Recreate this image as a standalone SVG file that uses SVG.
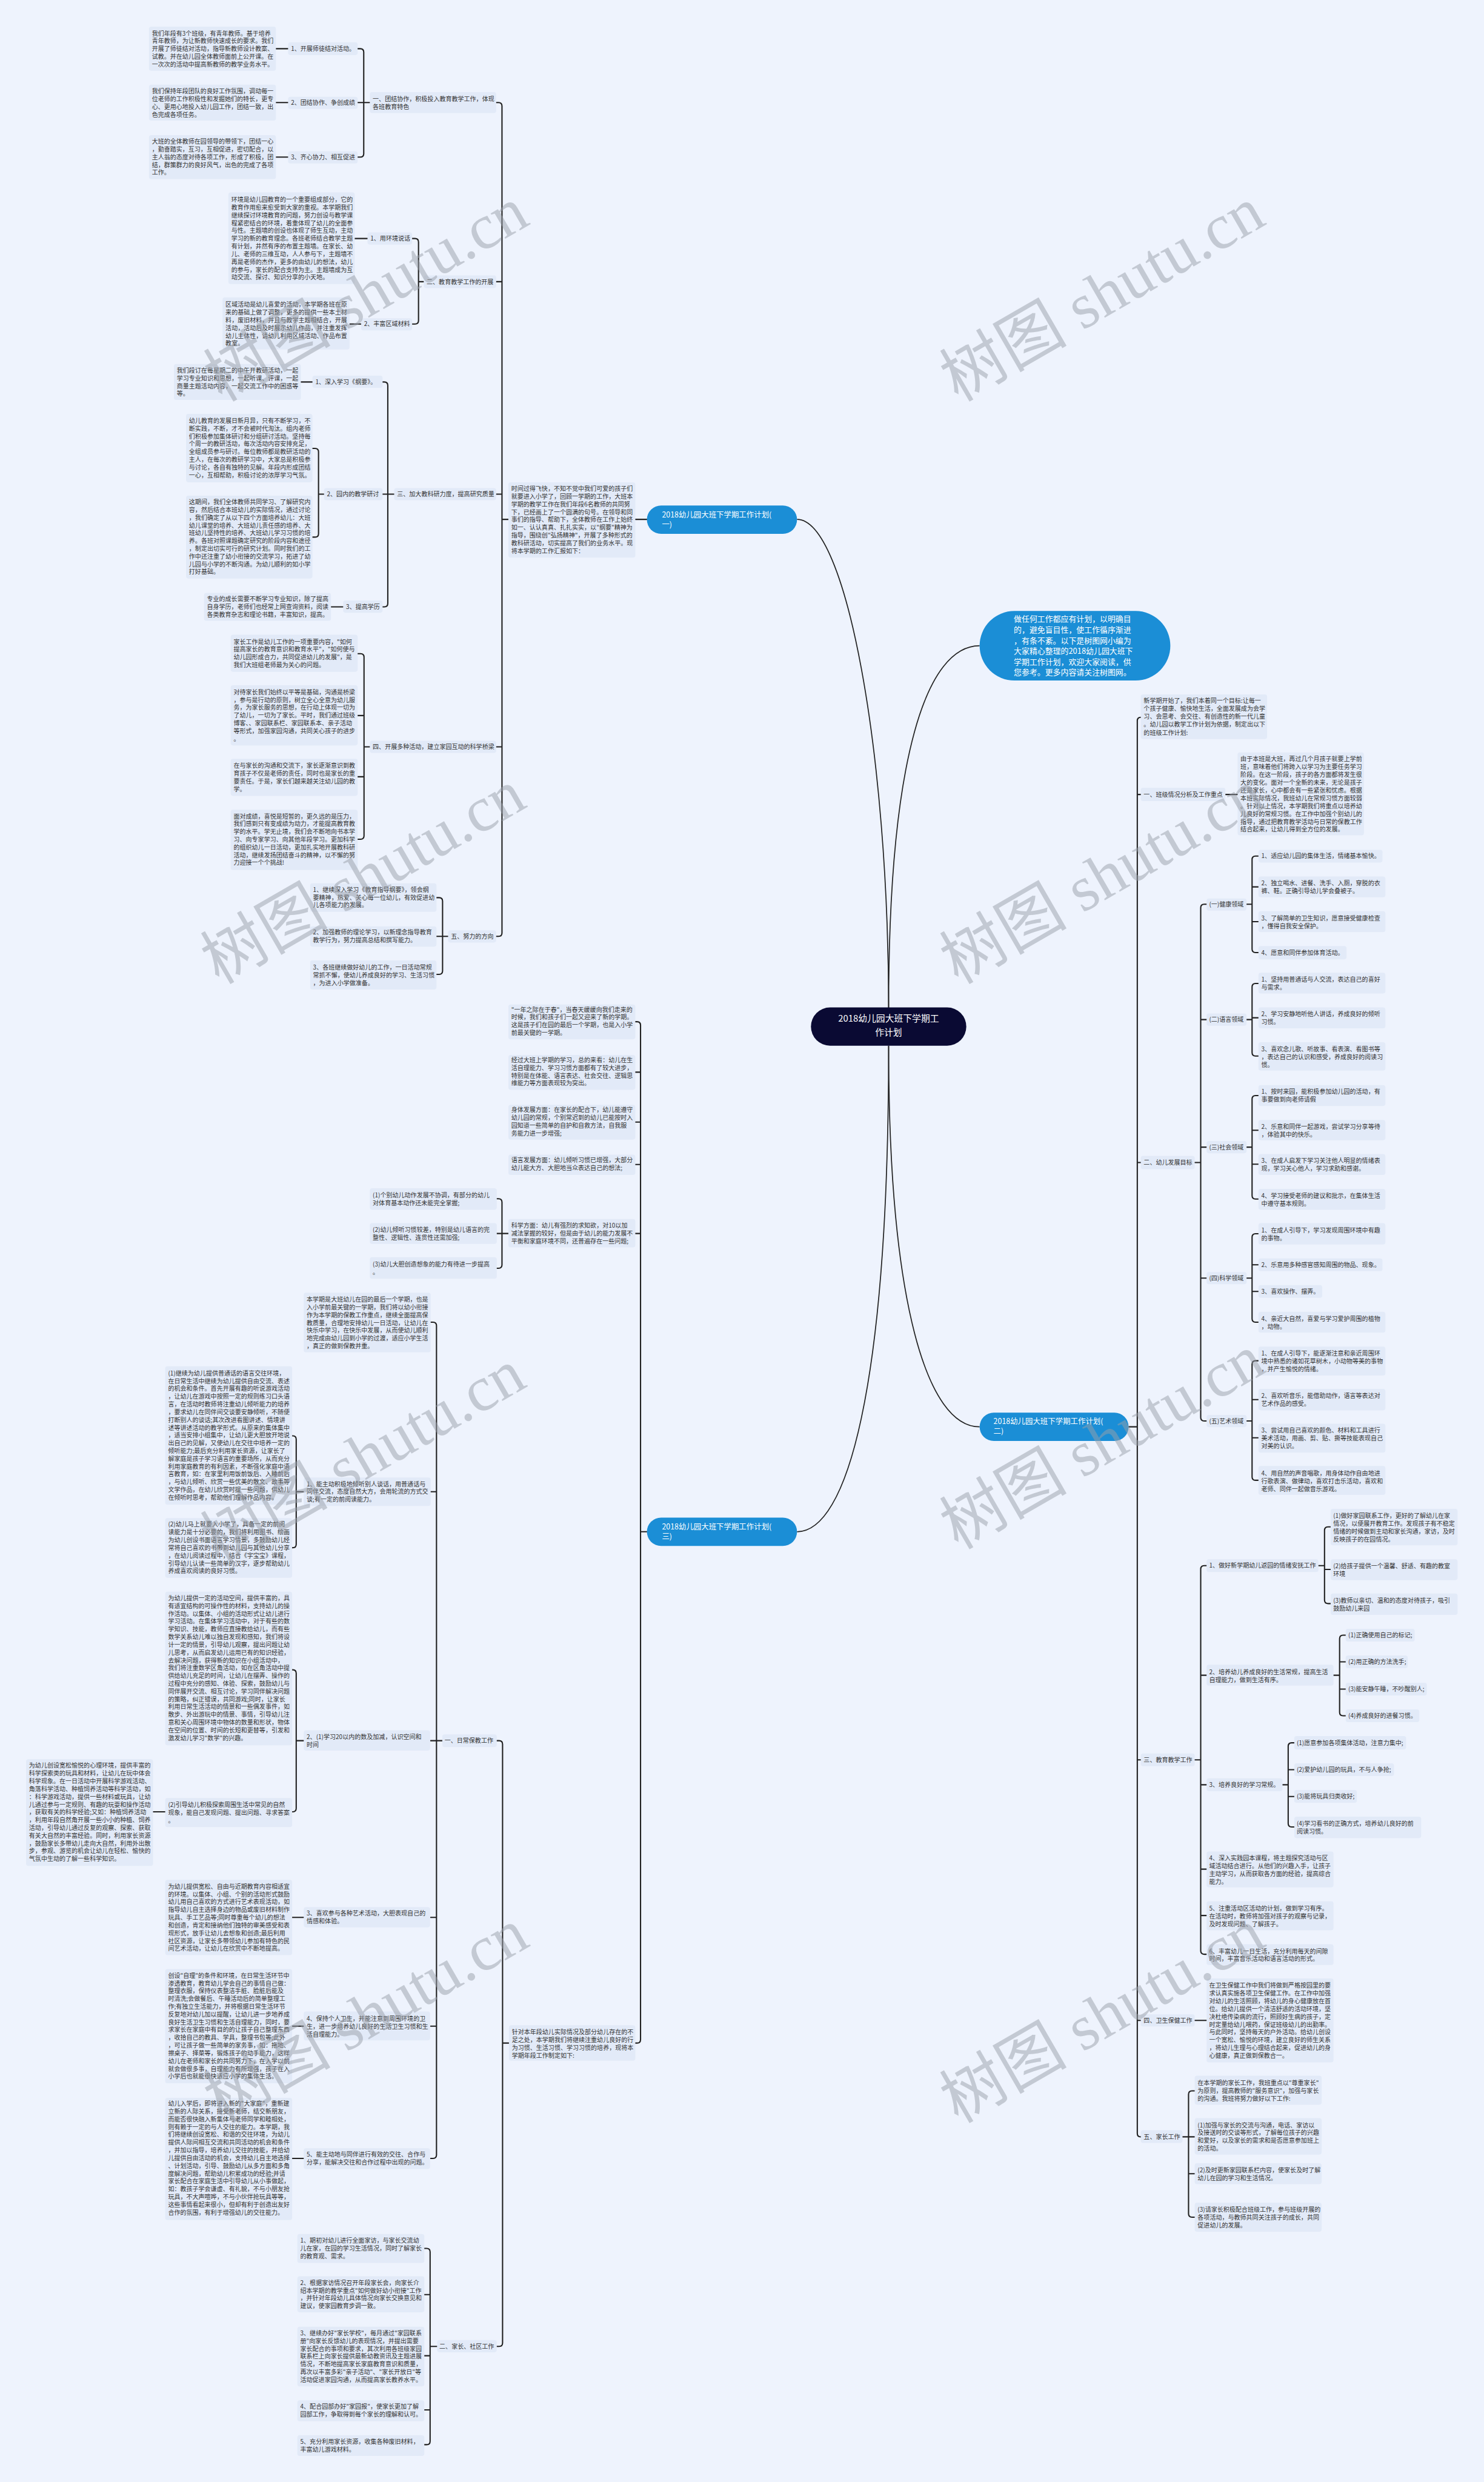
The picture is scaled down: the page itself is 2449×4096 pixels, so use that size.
<svg xmlns="http://www.w3.org/2000/svg" width="2449" height="4096" viewBox="0 0 2449 4096">
<defs>
<style>
.b{fill:#E2EAF8}
.t{font-family:"Noto Sans CJK SC","Noto Sans",sans-serif;font-size:10.5px;fill:#333}
.ln{fill:none;stroke:#222;stroke-width:2.2;stroke-linecap:round;stroke-linejoin:round}
.cv{fill:none;stroke:#222;stroke-width:1.8}
.pill{fill:#1B8ED6}
.bt{font-family:"Noto Sans CJK SC","Noto Sans",sans-serif;font-size:13px;fill:#fff}
.it{font-family:"Noto Sans CJK SC","Noto Sans",sans-serif;font-size:13.5px;fill:#fff}
.ct{font-family:"Noto Sans CJK SC","Noto Sans",sans-serif;font-size:15.5px;fill:#fff;text-anchor:middle}
.wm{font-family:"Liberation Serif","Noto Sans CJK SC",serif;font-size:110px;fill:#9aa0aa;opacity:0.5}
</style>
</defs>
<rect x="0" y="0" width="2449" height="4096" fill="#EEF3FD"/>
<g transform="scale(0.9566)">
<g id="connectors">
<path class="cv" d="M1375,896 C1460,896 1533,1300 1533,1740"/>
<path class="cv" d="M1533,1740 C1533,1300 1600,1114 1690,1114"/>
<path class="cv" d="M1533,1804 C1533,2250 1600,2461.5 1690,2461.5"/>
<path class="cv" d="M1533,1804 C1533,2400 1460,2642.5 1375,2642.5"/>
<path class="ln" d="M1116,896 H1096"/>
<path class="ln" d="M877,896 H866 M866,896 V183 Q866,177 860,177 H856 M866,486 H856 M866,852.5 H856 M866,1288.4 H856 M866,896 V1609.3 Q866,1615.3 860,1615.3 H856"/>
<path class="ln" d="M638,177 H627.5 M627.5,177 V90 Q627.5,84 621.5,84 H617 M627.5,177 H617 M627.5,177 V265 Q627.5,271 621.5,271 H617"/>
<path class="ln" d="M497,84 H476 M497,177 H476 M497,271 H476"/>
<path class="ln" d="M733,486 H722 M722,486 V417.5 Q722,411.5 716,411.5 H711 M722,486 V553 Q722,559 716,559 H711"/>
<path class="ln" d="M634,411.5 H612 M623,559 H603"/>
<path class="ln" d="M680,852.5 H659.5 M669,852.5 V665 Q669,659 663,659 H660 M669,852.5 V1041 Q669,1047 663,1047 H660"/>
<path class="ln" d="M539,659 H519 M592,1047 H571"/>
<path class="ln" d="M559,852.5 H549.5 M549.5,852.5 V779.6 Q549.5,773.6 543.5,773.6 H539 M549.5,852.5 V920.6 Q549.5,926.6 543.5,926.6 H539"/>
<path class="ln" d="M638,1288.4 H628 M628,1288.4 V1133.7 Q628,1127.7 622,1127.7 H617 M628,1234.4 H617 M628,1340 H617 M628,1288.4 V1441.8 Q628,1447.8 622,1447.8 H617"/>
<path class="ln" d="M773,1615.3 H763.5 M763.5,1615.3 V1554.6 Q763.5,1548.6 757.5,1548.6 H753 M763.5,1615.3 H753 M763.5,1615.3 V1675 Q763.5,1681 757.5,1681 H753"/>
<path class="ln" d="M1116,2642.5 H1105 M1105,2642.5 V1768.6 Q1105,1762.6 1099,1762.6 H1096 M1105,1849.6 H1096 M1105,1935.8 H1096 M1105,2009 H1096 M1105,2128 H1096 M1105,2642.5 V3518.6 Q1105,3524.6 1099,3524.6 H1096"/>
<path class="ln" d="M877,2128 H866 M866,2128 V2074 Q866,2068 860,2068 H857 M866,2128 H857 M866,2128 V2182 Q866,2188 860,2188 H857"/>
<path class="ln" d="M878,3524.6 H867 M867,3524.6 V3009 Q867,3003 861,3003 H857 M867,3524.6 V4042 Q867,4048 861,4048 H857"/>
<path class="ln" d="M763,3003 H753 M753,3003 V2287 Q753,2281 747,2281 H743 M753,2573.4 H743 M753,3003 H743 M753,3307.8 H743 M753,3495.5 H743 M753,3003 V3717.6 Q753,3723.6 747,3723.6 H743"/>
<path class="ln" d="M524,2573.4 H511 M511,2573.4 V2483 Q511,2477 505,2477 H504 M511,2573.4 V2664 Q511,2670 505,2670 H504"/>
<path class="ln" d="M524,3003 H511 M511,3003 V2886.6 Q511,2880.6 505,2880.6 H504 M511,3003 V3119.6 Q511,3125.6 505,3125.6 H504"/>
<path class="ln" d="M285,3125.6 H264 M524,3307.8 H504 M524,3495.5 H504 M524,3723.6 H504"/>
<path class="ln" d="M754,4048 H742 M742,4048 V3884.8 Q742,3878.8 736,3878.8 H732 M742,3958.5 H732 M742,4064 H732 M742,4157.4 H732 M742,4048 V4211.4 Q742,4217.4 736,4217.4 H732"/>
<path class="ln" d="M1947,2461.5 H1962 M1962,2461.5 V1243.4 Q1962,1237.4 1968,1237.4 M1962,1370.6 H1968 M1962,2005.5 H1968 M1962,3036 H1968 M1962,3485.5 H1968 M1962,2461.5 V3680.4 Q1962,3686.4 1968,3686.4"/>
<path class="ln" d="M2114,1370.6 H2135"/>
<path class="ln" d="M2061,2005.5 H2071.4 M2071.4,2005.5 V1566 Q2071.4,1560 2077.4,1560 H2081.5 M2071.4,1759 H2081.5 M2071.4,1979 H2081.5 M2071.4,2205 H2081.5 M2071.4,2005.5 V2445.4 Q2071.4,2451.4 2077.4,2451.4 H2081.5"/>
<path class="ln" d="M2150,1560 H2160 M2160,1560 V1482.8 Q2160,1476.8 2166,1476.8 H2171 M2160,1530 H2171 M2160,1590 H2171 M2160,1560 V1637.3 Q2160,1643.3 2166,1643.3 H2171"/>
<path class="ln" d="M2150,1759 H2160 M2160,1759 V1702.6 Q2160,1696.6 2166,1696.6 H2171 M2160,1755.8 H2171 M2160,1759 V1815.8 Q2160,1821.8 2166,1821.8 H2171"/>
<path class="ln" d="M2150,1979 H2160 M2160,1979 V1896 Q2160,1890 2166,1890 H2171 M2160,1949.8 H2171 M2160,2008.4 H2171 M2160,1979 V2062.5 Q2160,2068.5 2166,2068.5 H2171"/>
<path class="ln" d="M2150,2205 H2160 M2160,2205 V2134.4 Q2160,2128.4 2166,2128.4 H2171 M2160,2182 H2171 M2160,2228 H2171 M2160,2205 V2275 Q2160,2281 2166,2281 H2171"/>
<path class="ln" d="M2150,2451.4 H2160 M2160,2451.4 V2353.5 Q2160,2347.5 2166,2347.5 H2171 M2160,2414.5 H2171 M2160,2480.4 H2171 M2160,2451.4 V2547.7 Q2160,2553.7 2166,2553.7 H2171"/>
<path class="ln" d="M2061,3036 H2071.4 M2071.4,3036 V2707 Q2071.4,2701 2077.4,2701 H2081.5 M2071.4,2890 H2081.5 M2071.4,3079 H2081.5 M2071.4,3224.6 H2081.5 M2071.4,3304.5 H2081.5 M2071.4,3036 V3365.4 Q2071.4,3371.4 2077.4,3371.4 H2081.5"/>
<path class="ln" d="M2274.5,2701 H2285 M2285,2701 V2640 Q2285,2634 2291,2634 H2295.5 M2285,2707.5 H2295.5 M2285,2701 V2760.4 Q2285,2766.4 2291,2766.4 H2295.5"/>
<path class="ln" d="M2300.5,2890 H2311 M2311,2890 V2827 Q2311,2821 2317,2821 H2321.5 M2311,2867 H2321.5 M2311,2914 H2321.5 M2311,2890 V2954 Q2311,2960 2317,2960 H2321.5"/>
<path class="ln" d="M2212.6,3079 H2222.3 M2222.3,3079 V3012.6 Q2222.3,3006.6 2228.3,3006.6 H2232.8 M2222.3,3053 H2232.8 M2222.3,3099.3 H2232.8 M2222.3,3079 V3145.8 Q2222.3,3151.8 2228.3,3151.8 H2232.8"/>
<path class="ln" d="M2061,3485.5 H2081.5"/>
<path class="ln" d="M2040,3686.4 H2050.4 M2050.4,3686.4 V3613 Q2050.4,3607 2056.4,3607 H2061 M2050.4,3686.4 H2061 M2050.4,3750 H2061 M2050.4,3686.4 V3819 Q2050.4,3825 2056.4,3825 H2061"/>
</g>

<g id="n-center"><rect x="1399" y="1738" width="268" height="66" rx="33" fill="#0A0A33"/><text class="ct" x="1533" y="1762.5">2018幼儿园大班下学期工<tspan x="1533" dy="24">作计划</tspan></text></g>
<g id="n-intro"><rect class="pill" x="1690" y="1054" width="329" height="120" rx="60"/><text class="it" x="1749" y="1073">做任何工作都应有计划，以明确目<tspan x="1749" dy="18.4">的，避免盲目性，使工作循序渐进</tspan><tspan x="1749" dy="18.4">，有条不紊。以下是树图网小编为</tspan><tspan x="1749" dy="18.4">大家精心整理的2018幼儿园大班下</tspan><tspan x="1749" dy="18.4">学期工作计划，欢迎大家阅读，供</tspan><tspan x="1749" dy="18.4">您参考。更多内容请关注树图网。</tspan></text></g>
<g id="n-b1"><rect class="pill" x="1116" y="872" width="259" height="49" rx="24.5"/><text class="bt" x="1142" y="892.6">2018幼儿园大班下学期工作计划(<tspan x="1142" dy="17">一)</tspan></text></g>
<g id="n-b2"><rect class="pill" x="1690" y="2437" width="257" height="49" rx="24.5"/><text class="bt" x="1714" y="2456.3">2018幼儿园大班下学期工作计划(<tspan x="1714" dy="17">二)</tspan></text></g>
<g id="n-b3"><rect class="pill" x="1116" y="2618" width="259" height="49" rx="24.5"/><text class="bt" x="1142" y="2638.6">2018幼儿园大班下学期工作计划(<tspan x="1142" dy="17">三)</tspan></text></g>

<g id="n-p1"><rect class="b" x="877" y="832" width="219" height="130" rx="4"/><text class="t" x="882" y="847.1">时间过得飞快，不知不觉中我们可爱的孩子们<tspan x="882" dy="13.35">就要进入小学了，回顾一学期的工作，大班本</tspan><tspan x="882" dy="13.35">学期的教学工作在我们年段6名教师的共同努</tspan><tspan x="882" dy="13.35">下，已经画上了一个圆满的句号。在领导和同</tspan><tspan x="882" dy="13.35">事们的指导、帮助下，全体教师在工作上始终</tspan><tspan x="882" dy="13.35">如一、认认真真、扎扎实实，以"纲要"精神为</tspan><tspan x="882" dy="13.35">指导，围绕创"弘扬精神"，开展了多种形式的</tspan><tspan x="882" dy="13.35">教科研活动，切实提高了我们的业务水平。现</tspan><tspan x="882" dy="13.35">将本学期的工作汇报如下：</tspan></text></g>
<g id="n-s1"><rect class="b" x="638" y="159" width="218" height="36" rx="4"/><text class="t" x="643" y="174.8">一、团结协作，积极投入教育教学工作，体现<tspan x="643" dy="13.4">各班教育特色</tspan></text></g>
<g id="n-s2"><rect class="b" x="731" y="475" width="125" height="22" rx="4"/><text class="t" x="736" y="489.8">二、教育教学工作的开展</text></g>
<g id="n-s3"><rect class="b" x="680" y="842" width="176" height="21" rx="4"/><text class="t" x="685" y="856.3">三、加大教科研力度，提高研究质量</text></g>
<g id="n-s4"><rect class="b" x="638" y="1278" width="218" height="21" rx="4"/><text class="t" x="643" y="1292.2">四、开展多种活动，建立家园互动的科学桥梁</text></g>
<g id="n-s5"><rect class="b" x="773" y="1605" width="83" height="21" rx="4"/><text class="t" x="778" y="1619.1">五、努力的方向</text></g>
<g id="n-c11"><rect class="b" x="497" y="73" width="120" height="22" rx="4"/><text class="t" x="502" y="87.8">1、开展师徒结对活动。</text></g>
<g id="n-c12"><rect class="b" x="497" y="167" width="120" height="21" rx="4"/><text class="t" x="502" y="180.8">2、团结协作、争创成绩</text></g>
<g id="n-c13"><rect class="b" x="497" y="261" width="120" height="21" rx="4"/><text class="t" x="502" y="274.8">3、齐心协力、相互促进</text></g>
<g id="n-g11"><rect class="b" x="257" y="46" width="219" height="76" rx="4"/><text class="t" x="262" y="61.3">我们年段有3个班级，有青年教师。基于培养<tspan x="262" dy="13.4">青年教师，为让新教师快速成长的要求。我们</tspan><tspan x="262" dy="13.4">开展了师徒结对活动，指导新教师设计教案、</tspan><tspan x="262" dy="13.4">试教。并在幼儿园全体教师面前上公开课。在</tspan><tspan x="262" dy="13.4">一次次的活动中提高新教师的教学业务水平。</tspan></text></g>
<g id="n-g12"><rect class="b" x="257" y="146" width="219" height="62" rx="4"/><text class="t" x="262" y="161.3">我们保持年段团队的良好工作氛围，调动每一<tspan x="262" dy="13.4">位老师的工作积极性和发掘她们的特长，更专</tspan><tspan x="262" dy="13.4">心、更用心地投入幼儿园工作，团结一致，出</tspan><tspan x="262" dy="13.4">色完成各项任务。</tspan></text></g>
<g id="n-g13"><rect class="b" x="257" y="233" width="219" height="76" rx="4"/><text class="t" x="262" y="247.8">大班的全体教师在园领导的带领下，团结一心<tspan x="262" dy="13.4">，勤奋踏实，互习，互相促进，密切配合，以</tspan><tspan x="262" dy="13.4">主人翁的态度对待各项工作，形成了积极，团</tspan><tspan x="262" dy="13.4">结，群策群力的良好风气，出色的完成了各项</tspan><tspan x="262" dy="13.4">工作。</tspan></text></g>
<g id="n-c21"><rect class="b" x="634" y="401" width="77" height="21" rx="4"/><text class="t" x="639" y="415.3">1、用环境说话</text></g>
<g id="n-c22"><rect class="b" x="623" y="549" width="88" height="21" rx="4"/><text class="t" x="628" y="562.8">2、丰富区域材料</text></g>
<g id="n-g21"><rect class="b" x="394" y="332" width="218" height="158" rx="4"/><text class="t" x="399" y="348.3">环境是幼儿园教育的一个重要组成部分，它的<tspan x="399" dy="13.4">教育作用愈来愈受到大家的重视。本学期我们</tspan><tspan x="399" dy="13.4">继续探讨环境教育的问题，努力创设与教学课</tspan><tspan x="399" dy="13.4">程紧密结合的环境，着重体现了幼儿的全面参</tspan><tspan x="399" dy="13.4">与性。主题墙的创设也体现了师生互动，主动</tspan><tspan x="399" dy="13.4">学习的新的教育理念。各班老师结合教学主题</tspan><tspan x="399" dy="13.4">有计划，井然有序的布置主题墙。在家长、幼</tspan><tspan x="399" dy="13.4">儿、老师的三维互动，人人参与下，主题墙不</tspan><tspan x="399" dy="13.4">再是老师的杰作，更多的由幼儿的想法，幼儿</tspan><tspan x="399" dy="13.4">的参与，家长的配合支持为主。主题墙成为互</tspan><tspan x="399" dy="13.4">动交流、探讨、知识分享的小天地。</tspan></text></g>
<g id="n-g22"><rect class="b" x="384" y="513" width="219" height="90" rx="4"/><text class="t" x="389" y="529.2">区域活动是幼儿喜爱的活动，本学期各班在原<tspan x="389" dy="13.4">来的基础上做了调整，更多的提供一些本土材</tspan><tspan x="389" dy="13.4">料，废旧材料，并且与教学主题相结合，开展</tspan><tspan x="389" dy="13.4">活动，活动后及时展示幼儿作品，并注重发挥</tspan><tspan x="389" dy="13.4">幼儿主体性，请幼儿利用区域活动、作品布置</tspan><tspan x="389" dy="13.4">教室。</tspan></text></g>
<g id="n-c31"><rect class="b" x="539" y="648" width="121" height="21" rx="4"/><text class="t" x="544" y="662.8">1、深入学习《纲要》。</text></g>
<g id="n-c32"><rect class="b" x="559" y="842" width="101" height="21" rx="4"/><text class="t" x="564" y="856.3">2、园内的教学研讨</text></g>
<g id="n-c33"><rect class="b" x="592" y="1036" width="68" height="21" rx="4"/><text class="t" x="597" y="1050.8">3、提高学历</text></g>
<g id="n-g31"><rect class="b" x="300" y="628" width="219" height="62" rx="4"/><text class="t" x="305" y="642.8">我们段订在每星期二的中午开教研活动，一起<tspan x="305" dy="13.4">学习专业知识和思想，一起听课、评课，一起</tspan><tspan x="305" dy="13.4">商量主题活动内容，一起交流工作中的困惑等</tspan><tspan x="305" dy="13.4">等。</tspan></text></g>
<g id="n-g32a"><rect class="b" x="321" y="714" width="218" height="118" rx="4"/><text class="t" x="326" y="729.7">幼儿教育的发展日新月异，只有不断学习，不<tspan x="326" dy="13.4">断实践，不断，才不会被时代淘汰。组内老师</tspan><tspan x="326" dy="13.4">们积极参加集体研讨和分组研讨活动。坚持每</tspan><tspan x="326" dy="13.4">个周一的教研活动，每次活动内容安排充足，</tspan><tspan x="326" dy="13.4">全组成员参与研讨。每位教师都是教研活动的</tspan><tspan x="326" dy="13.4">主人，在每次的教研学习中，大家总是积极参</tspan><tspan x="326" dy="13.4">与讨论，各自有独特的见解。年段内形成团结</tspan><tspan x="326" dy="13.4">一心，互相帮助，积极讨论的浓厚学习气氛。</tspan></text></g>
<g id="n-g32b"><rect class="b" x="321" y="855" width="218" height="143" rx="4"/><text class="t" x="326" y="869.8">这期间，我们全体教师共同学习、了解研究内<tspan x="326" dy="13.4">容，然后结合本班幼儿的实际情况，通过讨论</tspan><tspan x="326" dy="13.4">，我们确定了从以下四个方面培养幼儿：大班</tspan><tspan x="326" dy="13.4">幼儿课堂的培养、大班幼儿责任感的培养、大</tspan><tspan x="326" dy="13.4">班幼儿坚持性的培养、大班幼儿学习习惯的培</tspan><tspan x="326" dy="13.4">养。各班对照课题确定研究的阶段内容和途径</tspan><tspan x="326" dy="13.4">，制定出切实可行的研究计划。同时我们的工</tspan><tspan x="326" dy="13.4">作中还注重了幼小衔接的交流学习，拓进了幼</tspan><tspan x="326" dy="13.4">儿园与小学的不断沟通。为幼儿顺利的如小学</tspan><tspan x="326" dy="13.4">打好基础。</tspan></text></g>
<g id="n-g33"><rect class="b" x="352" y="1023" width="219" height="48" rx="4"/><text class="t" x="357" y="1037.2">专业的成长需要不断学习专业知识，除了提高<tspan x="357" dy="13.4">自身学历，老师们也经常上网查询资料，阅读</tspan><tspan x="357" dy="13.4">各类教育杂志和理论书籍，丰富知识，提高。</tspan></text></g>
<g id="n-g41"><rect class="b" x="398" y="1095" width="219" height="64" rx="4"/><text class="t" x="403" y="1110.8">家长工作是幼儿工作的一项重要内容，"如何<tspan x="403" dy="13.4">提高家长的教育意识和教育水平"，"如何使与</tspan><tspan x="403" dy="13.4">幼儿园形成合力，共同促进幼儿的发展"，是</tspan><tspan x="403" dy="13.4">我们大班组老师最为关心的问题。</tspan></text></g>
<g id="n-g42"><rect class="b" x="398" y="1182" width="219" height="104" rx="4"/><text class="t" x="403" y="1197.8">对待家长我们始终以平等是基础，沟通是桥梁<tspan x="403" dy="13.4">，参与是行动的原则，树立全心全意为幼儿服</tspan><tspan x="403" dy="13.4">务，为家长服务的思想，在行动上体现一切为</tspan><tspan x="403" dy="13.4">了幼儿，一切为了家长。平时，我们通过班级</tspan><tspan x="403" dy="13.4">博客、、家园联系栏、家园联系本、亲子活动</tspan><tspan x="403" dy="13.4">等形式，加强家园沟通，共同关心孩子的进步</tspan><tspan x="403" dy="13.4">。</tspan></text></g>
<g id="n-g43"><rect class="b" x="398" y="1309" width="219" height="64" rx="4"/><text class="t" x="403" y="1324.8">在与家长的沟通和交流下，家长逐渐意识到教<tspan x="403" dy="13.4">育孩子不仅是老师的责任，同时也是家长的重</tspan><tspan x="403" dy="13.4">要责任。于是，家长们越来越关注幼儿园的教</tspan><tspan x="403" dy="13.4">学。</tspan></text></g>
<g id="n-g44"><rect class="b" x="398" y="1397" width="219" height="104" rx="4"/><text class="t" x="403" y="1411.8">面对成绩，喜悦是短暂的，更久远的是压力，<tspan x="403" dy="13.4">我们感到只有变成绩为动力，才能提高教育教</tspan><tspan x="403" dy="13.4">学的水平。学无止境，我们会不断地向书本学</tspan><tspan x="403" dy="13.4">习、向专家学习、向其他年段学习。更加科学</tspan><tspan x="403" dy="13.4">的组织幼儿一日活动，更加扎实地开展教科研</tspan><tspan x="403" dy="13.4">活动，继续发扬团结奋斗的精神，以不懈的努</tspan><tspan x="403" dy="13.4">力迎接一个个挑战!</tspan></text></g>
<g id="n-g51"><rect class="b" x="535" y="1524" width="218" height="49" rx="4"/><text class="t" x="540" y="1538.6">1、继续深入学习《教育指导纲要》，领会纲<tspan x="540" dy="13.4">要精神，热爱、关心每一位幼儿，有效促进幼</tspan><tspan x="540" dy="13.4">儿各项能力的发展。</tspan></text></g>
<g id="n-g52"><rect class="b" x="535" y="1598" width="218" height="35" rx="4"/><text class="t" x="540" y="1612.4">2、加强教师的理论学习，以新理念指导教育<tspan x="540" dy="13.4">教学行为，努力提高总结和撰写能力。</tspan></text></g>
<g id="n-g53"><rect class="b" x="535" y="1657" width="218" height="50" rx="4"/><text class="t" x="540" y="1672.6">3、各班继续做好幼儿的工作，一日活动常规<tspan x="540" dy="13.4">常抓不懈，使幼儿养成良好的学习、生活习惯</tspan><tspan x="540" dy="13.4">，为进入小学做准备。</tspan></text></g>

<g id="n-p3a"><rect class="b" x="877" y="1733" width="219" height="60" rx="4"/><text class="t" x="882" y="1745.4">"一年之际在于春"，当春天缓缓向我们走来的<tspan x="882" dy="13.4">时候，我们和孩子们一起又迎来了新的学期。</tspan><tspan x="882" dy="13.4">这是孩子们在园的最后一个学期，也是入小学</tspan><tspan x="882" dy="13.4">前最关键的一学期。</tspan></text></g>
<g id="n-p3b"><rect class="b" x="877" y="1820" width="219" height="60" rx="4"/><text class="t" x="882" y="1832.5">经过大班上学期的学习，总的来看：幼儿在生<tspan x="882" dy="13.4">活自理能力、学习习惯方面都有了较大进步，</tspan><tspan x="882" dy="13.4">特别是在体能、语言表达、社会交往、逻辑思</tspan><tspan x="882" dy="13.4">维能力等方面表现较为突出。</tspan></text></g>
<g id="n-p3c"><rect class="b" x="877" y="1906" width="219" height="60" rx="4"/><text class="t" x="882" y="1918.6">身体发展方面：在家长的配合下，幼儿能遵守<tspan x="882" dy="13.4">幼儿园的常规，个别常迟到的幼儿已能按时入</tspan><tspan x="882" dy="13.4">园知道一些简单的自护和自救方法，自我服</tspan><tspan x="882" dy="13.4">务能力进一步增强;</tspan></text></g>
<g id="n-p3d"><rect class="b" x="877" y="1992" width="219" height="35" rx="4"/><text class="t" x="882" y="2005.2">语言发展方面：幼儿倾听习惯已增强，大部分<tspan x="882" dy="13.4">幼儿能大方、大胆地当众表达自己的想法;</tspan></text></g>
<g id="n-p3e"><rect class="b" x="877" y="2103" width="219" height="49" rx="4"/><text class="t" x="882" y="2118.3">科学方面：幼儿有强烈的求知欲，对10以加<tspan x="882" dy="13.4">减法掌握的较好，但是由于幼儿的能力发展不</tspan><tspan x="882" dy="13.4">平衡和家庭环境不同，还普遍存在一些问题;</tspan></text></g>
<g id="n-e1"><rect class="b" x="638" y="2050" width="219" height="37" rx="4"/><text class="t" x="643" y="2065.5">(1)个别幼儿动作发展不协调，有部分的幼儿<tspan x="643" dy="13.4">对体育基本动作还未能完全掌握;</tspan></text></g>
<g id="n-e2"><rect class="b" x="638" y="2110" width="219" height="36" rx="4"/><text class="t" x="643" y="2125.4">(2)幼儿倾听习惯较差，特别是幼儿语言的完<tspan x="643" dy="13.4">整性、逻辑性、连贯性还需加强;</tspan></text></g>
<g id="n-e3"><rect class="b" x="638" y="2169" width="219" height="37" rx="4"/><text class="t" x="643" y="2185.2">(3)幼儿大胆创造想象的能力有待进一步提高<tspan x="643" dy="13.4">。</tspan></text></g>
<g id="n-p3f"><rect class="b" x="878" y="3494" width="218" height="61" rx="4"/><text class="t" x="883" y="3509.8">针对本年段幼儿实际情况及部分幼儿存在的不<tspan x="883" dy="13.4">足之处，本学期我们将继续注重幼儿良好的行</tspan><tspan x="883" dy="13.4">为习惯、生活习惯、学习习惯的培养，现将本</tspan><tspan x="883" dy="13.4">学期年段工作制定如下:</tspan></text></g>
<g id="n-f1"><rect class="b" x="763" y="2992" width="94" height="22" rx="4"/><text class="t" x="767" y="3006.8">一、日常保教工作</text></g>
<g id="n-f2"><rect class="b" x="754" y="4037" width="103" height="21" rx="4"/><text class="t" x="758" y="4051.8">二、家长、社区工作</text></g>
<g id="n-f10"><rect class="b" x="524" y="2230" width="219" height="103" rx="4"/><text class="t" x="529" y="2245.5">本学期是大班幼儿在园的最后一个学期，也是<tspan x="529" dy="13.4">入小学前最关键的一学期，我们将以幼小衔接</tspan><tspan x="529" dy="13.4">作为本学期的保教工作重点，继续全面提高保</tspan><tspan x="529" dy="13.4">教质量，合理地安排幼儿一日活动，让幼儿在</tspan><tspan x="529" dy="13.4">快乐中学习，在快乐中发展，从而使幼儿顺利</tspan><tspan x="529" dy="13.4">地完成由幼儿园到小学的过渡，适应小学生活</tspan><tspan x="529" dy="13.4">，真正的做到保教并重。</tspan></text></g>
<g id="n-f11"><rect class="b" x="524" y="2549" width="219" height="49" rx="4"/><text class="t" x="529" y="2563.8">1、能主动积极地倾听别人谈话，用普通话与<tspan x="529" dy="13.4">同伴交流，态度自然大方，会用轮流的方式交</tspan><tspan x="529" dy="13.4">谈;有一定的前阅读能力。</tspan></text></g>
<g id="n-f12"><rect class="b" x="524" y="2985" width="218" height="35" rx="4"/><text class="t" x="529" y="3000.2">2、(1)学习20以内的数及加减，认识空间和<tspan x="529" dy="13.4">时间</tspan></text></g>
<g id="n-f13"><rect class="b" x="524" y="3290" width="218" height="35" rx="4"/><text class="t" x="529" y="3304.8">3、喜欢参与各种艺术活动，大胆表现自己的<tspan x="529" dy="13.4">情感和体验。</tspan></text></g>
<g id="n-f14"><rect class="b" x="524" y="3470" width="218" height="50" rx="4"/><text class="t" x="529" y="3486.3">4、保持个人卫生，并能注意到周围环境的卫<tspan x="529" dy="13.4">生，进一步培养幼儿良好的生活卫生习惯和生</tspan><tspan x="529" dy="13.4">活自理能力。</tspan></text></g>
<g id="n-f15"><rect class="b" x="524" y="3706" width="218" height="36" rx="4"/><text class="t" x="529" y="3720.8">5、能主动地与同伴进行有效的交往、合作与<tspan x="529" dy="13.4">分享，能解决交往和合作过程中出现的问题。</tspan></text></g>
<g id="n-f11a"><rect class="b" x="285" y="2357" width="219" height="239" rx="4"/><text class="t" x="290" y="2372.8">(1)继续为幼儿提供普通话的语言交往环境，<tspan x="290" dy="13.4">在日常生活中继续为幼儿提供自由交流、表述</tspan><tspan x="290" dy="13.4">的机会和条件。首先开展有趣的听说游戏活动</tspan><tspan x="290" dy="13.4">，让幼儿在游戏中按照一定的规则练习口头语</tspan><tspan x="290" dy="13.4">言，在活动时教师将注重幼儿倾听能力的培养</tspan><tspan x="290" dy="13.4">，要求幼儿在同伴间交谈要安静倾听，不随便</tspan><tspan x="290" dy="13.4">打断别人的谈话;其次改进看图讲述、情境讲</tspan><tspan x="290" dy="13.4">述等讲述活动的教学形式。从原来的集体集中</tspan><tspan x="290" dy="13.4">，适当安排小组集中，让幼儿更大胆放开地说</tspan><tspan x="290" dy="13.4">出自己的见解，又使幼儿在交往中培养一定的</tspan><tspan x="290" dy="13.4">倾听能力;最后充分利用家长资源，让家长了</tspan><tspan x="290" dy="13.4">解家庭是孩子学习语言的重要场所，从而充分</tspan><tspan x="290" dy="13.4">利用家庭教育的有利因素，不断强化家庭中语</tspan><tspan x="290" dy="13.4">言教育，如：在家里利用饭前饭后、入睡前后</tspan><tspan x="290" dy="13.4">，与幼儿倾听、欣赏一些优美的散文、故事等</tspan><tspan x="290" dy="13.4">文学作品，在幼儿欣赏时提一些问题，供幼儿</tspan><tspan x="290" dy="13.4">在倾听时思考，帮助他们理解作品内容。</tspan></text></g>
<g id="n-f11b"><rect class="b" x="285" y="2619" width="219" height="103" rx="4"/><text class="t" x="290" y="2633.8">(2)幼儿马上就要入小学了，具备一定的前阅<tspan x="290" dy="13.4">读能力是十分必要的，我们将利用图书、绘画</tspan><tspan x="290" dy="13.4">为幼儿创设书面语言学习情景，多鼓励幼儿经</tspan><tspan x="290" dy="13.4">常将自己喜欢的书带到幼儿园与其他幼儿分享</tspan><tspan x="290" dy="13.4">，在幼儿阅读过程中，结合《字宝宝》课程，</tspan><tspan x="290" dy="13.4">引导幼儿认读一些简单的汉字，逐步帮助幼儿</tspan><tspan x="290" dy="13.4">养成喜欢阅读的良好习惯。</tspan></text></g>
<g id="n-f12a"><rect class="b" x="285" y="2746" width="219" height="265" rx="4"/><text class="t" x="290" y="2760.8">为幼儿提供一定的活动空间，提供丰富的，具<tspan x="290" dy="13.4">有适宜结构的可操作性的材料，支持幼儿的操</tspan><tspan x="290" dy="13.4">作活动。以集体、小组的活动形式让幼儿进行</tspan><tspan x="290" dy="13.4">学习活动。在集体学习活动中，对于有些的数</tspan><tspan x="290" dy="13.4">学知识、技能，教师应直接教给幼儿，而有些</tspan><tspan x="290" dy="13.4">数学关系幼儿难以独自发现和感知，我们将设</tspan><tspan x="290" dy="13.4">计一定的情景，引导幼儿观察，提出问题让幼</tspan><tspan x="290" dy="13.4">儿思考，从而启发幼儿运用已有的知识经验，</tspan><tspan x="290" dy="13.4">去解决问题，获得新的知识在小组活动中，</tspan><tspan x="290" dy="13.4">我们将注重数学区角活动，如在区角活动中提</tspan><tspan x="290" dy="13.4">供给幼儿充足的时间，让幼儿在摆弄、操作的</tspan><tspan x="290" dy="13.4">过程中充分的感知、体验、探索，鼓励幼儿与</tspan><tspan x="290" dy="13.4">同伴展开交流、相互讨论，学习同伴解决问题</tspan><tspan x="290" dy="13.4">的策略，纠正错误，共同游戏;同时，让家长</tspan><tspan x="290" dy="13.4">利用日常生活活动的情景和一些偶发事件，如</tspan><tspan x="290" dy="13.4">散步、外出游玩中的情景、事情，引导幼儿注</tspan><tspan x="290" dy="13.4">意和关心周围环境中物体的数量和形状，物体</tspan><tspan x="290" dy="13.4">在空间的位置、时间的长短和更替等，引发和</tspan><tspan x="290" dy="13.4">激发幼儿学习"数学"的兴趣。</tspan></text></g>
<g id="n-f12b"><rect class="b" x="285" y="3102" width="219" height="50" rx="4"/><text class="t" x="290" y="3117.3">(2)引导幼儿积极探索周围生活中常见的自然<tspan x="290" dy="13.4">现象，能自己发现问题、提出问题、寻求答案</tspan><tspan x="290" dy="13.4">。</tspan></text></g>
<g id="n-f12c"><rect class="b" x="45" y="3035" width="219" height="184" rx="4"/><text class="t" x="50" y="3049.8">为幼儿创设宽松愉悦的心理环境，提供丰富的<tspan x="50" dy="13.4">科学探索类的玩具和材料，让幼儿在玩中体会</tspan><tspan x="50" dy="13.4">科学现象。在一日活动中开展科学游戏活动、</tspan><tspan x="50" dy="13.4">角落科学活动、种植饲养活动等科学活动，如</tspan><tspan x="50" dy="13.4">：科学游戏活动，提供一些材料或玩具，让幼</tspan><tspan x="50" dy="13.4">儿通过参与一定规则、有趣的玩耍和操作活动</tspan><tspan x="50" dy="13.4">，获取有关的科学经验;又如：种植饲养活动</tspan><tspan x="50" dy="13.4">，利用年段自然角开展一些小小的种植、饲养</tspan><tspan x="50" dy="13.4">活动，引导幼儿通过反复的观察、探索、获取</tspan><tspan x="50" dy="13.4">有关大自然的丰富经验。同时，利用家长资源</tspan><tspan x="50" dy="13.4">，鼓励家长多带幼儿走向大自然，利用外出散</tspan><tspan x="50" dy="13.4">步，参观、游览的机会让幼儿在轻松、愉快的</tspan><tspan x="50" dy="13.4">气氛中生动的了解一些科学知识。</tspan></text></g>
<g id="n-f13a"><rect class="b" x="285" y="3243" width="219" height="130" rx="4"/><text class="t" x="290" y="3258.2">为幼儿提供宽松、自由与近期教育内容相适宜<tspan x="290" dy="13.4">的环境。以集体、小组、个别的活动形式鼓励</tspan><tspan x="290" dy="13.4">幼儿用自己喜欢的方式进行艺术表现活动，如</tspan><tspan x="290" dy="13.4">指导幼儿自主选择身边的物品或废旧材料制作</tspan><tspan x="290" dy="13.4">玩具、手工艺品等;同时尊重每个幼儿的想法</tspan><tspan x="290" dy="13.4">和创造，肯定和接纳他们独特的审美感受和表</tspan><tspan x="290" dy="13.4">现形式，放手让幼儿去想象和创造;最后利用</tspan><tspan x="290" dy="13.4">社区资源，让家长多带领幼儿参加有特色的民</tspan><tspan x="290" dy="13.4">间艺术活动，让幼儿在欣赏中不断地提高。</tspan></text></g>
<g id="n-f14a"><rect class="b" x="285" y="3397" width="219" height="197" rx="4"/><text class="t" x="290" y="3411.8">创设"自理"的条件和环境，在日常生活环节中<tspan x="290" dy="13.4">渗透教育，教育幼儿学会自己的事情自己做：</tspan><tspan x="290" dy="13.4">整理衣服，保持仪表整洁手脏、脸脏后能及</tspan><tspan x="290" dy="13.4">时清洗;会做餐后、午睡活动后的简单整理工</tspan><tspan x="290" dy="13.4">作;有独立生活能力，并将根据日常生活环节</tspan><tspan x="290" dy="13.4">反复地对幼儿加以提醒，让幼儿进一步地养成</tspan><tspan x="290" dy="13.4">良好生活卫生习惯和生活自理能力，同时，要</tspan><tspan x="290" dy="13.4">求家长在家庭中有目的的让孩子自己整理东西</tspan><tspan x="290" dy="13.4">，收拾自己的教具、学具，整理书包等;此外</tspan><tspan x="290" dy="13.4">，可让孩子做一些简单的家务事，如：拖地、</tspan><tspan x="290" dy="13.4">擦桌子、择菜等，锻炼孩子的动手能力，这样</tspan><tspan x="290" dy="13.4">幼儿在老师和家长的共同努力下，在入学以前</tspan><tspan x="290" dy="13.4">就会做很多事，自理能力有所增强，孩子在入</tspan><tspan x="290" dy="13.4">小学后也就能很快适应小学的集体生活。</tspan></text></g>
<g id="n-f15a"><rect class="b" x="285" y="3619" width="219" height="211" rx="4"/><text class="t" x="290" y="3632.8">幼儿入学后，即将进入新的"大家庭"，重新建<tspan x="290" dy="13.4">立新的人际关系，接受新老师，结交新朋友，</tspan><tspan x="290" dy="13.4">而能否很快融入新集体与老师同学和睦相处，</tspan><tspan x="290" dy="13.4">则有赖于一定的与人交往的能力。本学期，我</tspan><tspan x="290" dy="13.4">们将继续创设宽松、和谐的交往环境，为幼儿</tspan><tspan x="290" dy="13.4">提供人际间相互交流和共同活动的机会和条件</tspan><tspan x="290" dy="13.4">，并加以指导，培养幼儿交往的技能，并给幼</tspan><tspan x="290" dy="13.4">儿提供自由活动的机会，支持幼儿自主地选择</tspan><tspan x="290" dy="13.4">、计划活动，引导、鼓励幼儿从多方面和多角</tspan><tspan x="290" dy="13.4">度解决问题，帮助幼儿积累成功的经验;并请</tspan><tspan x="290" dy="13.4">家长配合在家庭生活中引导幼儿从小事做起，</tspan><tspan x="290" dy="13.4">如：教孩子学会谦虚、有礼貌，不与小朋友抢</tspan><tspan x="290" dy="13.4">玩具，不大声喧哗，不与小伙伴抢玩具等等，</tspan><tspan x="290" dy="13.4">这些事情看起来很小，但却有利于创造出友好</tspan><tspan x="290" dy="13.4">合作的氛围，有利于增强幼儿的交往能力。</tspan></text></g>
<g id="n-f21"><rect class="b" x="513" y="3854" width="219" height="50" rx="4"/><text class="t" x="518" y="3868.8">1、期初对幼儿进行全面家访，与家长交流幼<tspan x="518" dy="13.4">儿在家，在园的学习生活情况，同时了解家长</tspan><tspan x="518" dy="13.4">的教育观、需求。</tspan></text></g>
<g id="n-f22"><rect class="b" x="513" y="3927" width="219" height="62" rx="4"/><text class="t" x="518" y="3941.8">2、根据家访情况召开年段家长会，向家长介<tspan x="518" dy="13.4">绍本学期的教学重点"如何做好幼小衔接"工作</tspan><tspan x="518" dy="13.4">，并针对年段幼儿具体情况向家长交换意见和</tspan><tspan x="518" dy="13.4">建议，使家园教育步调一致。</tspan></text></g>
<g id="n-f23"><rect class="b" x="513" y="4014" width="219" height="103" rx="4"/><text class="t" x="518" y="4028.8">3、继续办好"家长学校"，每月通过"家园联系<tspan x="518" dy="13.4">册"向家长反馈幼儿的表现情况，并提出需要</tspan><tspan x="518" dy="13.4">家长配合的事项和要求，其次利用各班级家园</tspan><tspan x="518" dy="13.4">联系栏上向家长提供最新幼教资讯及主题进展</tspan><tspan x="518" dy="13.4">情况，不断地提高家长家庭教育意识和质量，</tspan><tspan x="518" dy="13.4">再次以丰富多彩"亲子活动"、"家长开放日"等</tspan><tspan x="518" dy="13.4">活动促进家园沟通，从而提高家长教养水平。</tspan></text></g>
<g id="n-f24"><rect class="b" x="513" y="4141" width="219" height="36" rx="4"/><text class="t" x="518" y="4155.8">4、配合园部办好"家园报"，使家长更加了解<tspan x="518" dy="13.4">园部工作，争取得到每个家长的理解和认可。</tspan></text></g>
<g id="n-f25"><rect class="b" x="513" y="4201" width="219" height="36" rx="4"/><text class="t" x="518" y="4215.8">5、充分利用家长资源，收集各种废旧材料，<tspan x="518" dy="13.4">丰富幼儿游戏材料。</tspan></text></g>

<g id="n-r0"><rect class="b" x="1968" y="1198" width="218" height="77" rx="4"/><text class="t" x="1973" y="1212.5">新学期开始了，我们本着同一个目标:让每一<tspan x="1973" dy="13.8">个孩子健康、愉快地生活，全面发展成为会学</tspan><tspan x="1973" dy="13.8">习、会思考、会交往、有创造性的新一代儿童</tspan><tspan x="1973" dy="13.8">。幼儿园以教学工作计划为依据，制定出以下</tspan><tspan x="1973" dy="13.8">的班级工作计划:</tspan></text></g>
<g id="n-r1"><rect class="b" x="1968" y="1359" width="146" height="23" rx="4"/><text class="t" x="1973" y="1374.4">一、班级情况分析及工作重点</text></g>
<g id="n-r1a"><rect class="b" x="2135" y="1298" width="218" height="143" rx="4"/><text class="t" x="2140" y="1312.8">由于本班是大班，再过几个月孩子就要上学前<tspan x="2140" dy="13.55">班，意味着他们将跨入以学习为主要任务学习</tspan><tspan x="2140" dy="13.55">阶段。在这一阶段，孩子的各方面都将发生很</tspan><tspan x="2140" dy="13.55">大的变化。面对一个全新的未来，无论是孩子</tspan><tspan x="2140" dy="13.55">还是家长，心中都会有一些紧张和忧虑。根据</tspan><tspan x="2140" dy="13.55">本班实际情况，我班幼儿在常规习惯方面较弱</tspan><tspan x="2140" dy="13.55">。针对以上情况，本学期我们将重点以培养幼</tspan><tspan x="2140" dy="13.55">儿良好的常规习惯。在工作中加强个别幼儿的</tspan><tspan x="2140" dy="13.55">指导，通过把教育教学活动与日常的保教工作</tspan><tspan x="2140" dy="13.55">结合起来，让幼儿得到全方位的发展。</tspan></text></g>
<g id="n-r2"><rect class="b" x="1968" y="1994" width="93" height="23" rx="4"/><text class="t" x="1973" y="2009.3">二、幼儿发展目标</text></g>
<g id="n-r21"><rect class="b" x="2081.5" y="1550" width="69" height="21" rx="4"/><text class="t" x="2086" y="1563.8">(一)健康领域</text></g>
<g id="n-r22"><rect class="b" x="2081.5" y="1748.5" width="69" height="21" rx="4"/><text class="t" x="2086" y="1762.8">(二)语言领域</text></g>
<g id="n-r23"><rect class="b" x="2081.5" y="1968.5" width="69" height="21" rx="4"/><text class="t" x="2086" y="1982.8">(三)社会领域</text></g>
<g id="n-r24"><rect class="b" x="2081.5" y="2194.5" width="69" height="21" rx="4"/><text class="t" x="2086" y="2208.8">(四)科学领域</text></g>
<g id="n-r25"><rect class="b" x="2081.5" y="2441" width="69" height="21" rx="4"/><text class="t" x="2086" y="2455.2">(五)艺术领域</text></g>
<g id="n-r211"><rect class="b" x="2171" y="1466" width="214" height="22" rx="4"/><text class="t" x="2176" y="1480.6">1、适应幼儿园的集体生活，情绪基本愉快。</text></g>
<g id="n-r212"><rect class="b" x="2171" y="1512" width="219" height="36" rx="4"/><text class="t" x="2176" y="1527.1">2、独立喝水、进餐、洗手、入厕，穿脱的衣<tspan x="2176" dy="13.7">裤、鞋。正确引导幼儿学会叠被子。</tspan></text></g>
<g id="n-r213"><rect class="b" x="2171" y="1572" width="219" height="36" rx="4"/><text class="t" x="2176" y="1587.4">3、了解简单的卫生知识，愿意接受健康检查<tspan x="2176" dy="13.7">，懂得自我安全保护。</tspan></text></g>
<g id="n-r214"><rect class="b" x="2171" y="1632" width="152" height="23" rx="4"/><text class="t" x="2176" y="1647.1">4、愿意和同伴参加体育活动。</text></g>
<g id="n-r221"><rect class="b" x="2171" y="1678" width="219" height="36" rx="4"/><text class="t" x="2176" y="1693.6">1、坚持用普通话与人交流，表达自己的喜好<tspan x="2176" dy="13.7">与需求。</tspan></text></g>
<g id="n-r222"><rect class="b" x="2171" y="1738" width="219" height="36" rx="4"/><text class="t" x="2176" y="1753.3">2、学习安静地听他人讲话，养成良好的倾听<tspan x="2176" dy="13.7">习惯。</tspan></text></g>
<g id="n-r223"><rect class="b" x="2171" y="1798" width="219" height="49" rx="4"/><text class="t" x="2176" y="1813.5">3、喜欢念儿歌、听故事、看表演、看图书等<tspan x="2176" dy="13.7">，表达自己的认识和感受，养成良好的阅读习</tspan><tspan x="2176" dy="13.7">惯。</tspan></text></g>
<g id="n-r231"><rect class="b" x="2171" y="1872" width="219" height="36" rx="4"/><text class="t" x="2176" y="1887">1、按时来园，能积极参加幼儿园的活动，有<tspan x="2176" dy="13.7">事要做到向老师请假</tspan></text></g>
<g id="n-r232"><rect class="b" x="2171" y="1932" width="219" height="35" rx="4"/><text class="t" x="2176" y="1947.3">2、乐意和同伴一起游戏，尝试学习分享等待<tspan x="2176" dy="13.7">，体验其中的快乐。</tspan></text></g>
<g id="n-r233"><rect class="b" x="2171" y="1991" width="219" height="36" rx="4"/><text class="t" x="2176" y="2006.4">3、在成人启发下学习关注他人明显的情绪表<tspan x="2176" dy="13.7">现，学习关心他人，学习求助和感谢。</tspan></text></g>
<g id="n-r234"><rect class="b" x="2171" y="2051" width="219" height="36" rx="4"/><text class="t" x="2176" y="2066.2">4、学习接受老师的建议和批示，在集体生活<tspan x="2176" dy="13.7">中遵守基本规则。</tspan></text></g>
<g id="n-r241"><rect class="b" x="2171" y="2110" width="219" height="37" rx="4"/><text class="t" x="2176" y="2125.8">1、在成人引导下，学习发现周围环境中有趣<tspan x="2176" dy="13.7">的事物。</tspan></text></g>
<g id="n-r242"><rect class="b" x="2171" y="2171" width="214" height="22" rx="4"/><text class="t" x="2176" y="2185.8">2、乐意用多种感官感知周围的物品、现象。</text></g>
<g id="n-r243"><rect class="b" x="2171" y="2217" width="110" height="22" rx="4"/><text class="t" x="2176" y="2231.8">3、喜欢操作、摆弄。</text></g>
<g id="n-r244"><rect class="b" x="2171" y="2263" width="219" height="36" rx="4"/><text class="t" x="2176" y="2278.4">4、亲近大自然，喜爱与学习爱护周围的植物<tspan x="2176" dy="13.7">，动物。</tspan></text></g>
<g id="n-r251"><rect class="b" x="2171" y="2323" width="219" height="50" rx="4"/><text class="t" x="2176" y="2338.4">1、在成人引导下，能逐渐注意和亲近周围环<tspan x="2176" dy="13.7">境中熟悉的诸如花草树木，小动物等美的事物</tspan><tspan x="2176" dy="13.7">，并产生愉悦的情绪。</tspan></text></g>
<g id="n-r252"><rect class="b" x="2171" y="2396" width="219" height="37" rx="4"/><text class="t" x="2176" y="2411.8">2、喜欢听音乐，能借助动作，语言等表达对<tspan x="2176" dy="13.7">艺术作品的感受。</tspan></text></g>
<g id="n-r253"><rect class="b" x="2171" y="2456" width="219" height="50" rx="4"/><text class="t" x="2176" y="2471.3">3、尝试用自己喜欢的颜色、材料和工具进行<tspan x="2176" dy="13.7">美术活动，用画、剪、贴、撕等技能表现自己</tspan><tspan x="2176" dy="13.7">对美的认识。</tspan></text></g>
<g id="n-r254"><rect class="b" x="2171" y="2529" width="219" height="50" rx="4"/><text class="t" x="2176" y="2545.2">4、用自然的声音唱歌，用身体动作自由地进<tspan x="2176" dy="13.7">行歌表演、做律动，喜欢打击乐活动，喜欢和</tspan><tspan x="2176" dy="13.7">老师、同伴一起做音乐游戏。</tspan></text></g>
<g id="n-r3"><rect class="b" x="1968" y="3025" width="93" height="22" rx="4"/><text class="t" x="1973" y="3039.8">三、教育教学工作</text></g>
<g id="n-r31"><rect class="b" x="2081.5" y="2690" width="193" height="22" rx="4"/><text class="t" x="2086" y="2704.8">1、做好新学期幼儿返园的情绪安抚工作</text></g>
<g id="n-r311"><rect class="b" x="2295.5" y="2603" width="219" height="63" rx="4"/><text class="t" x="2300" y="2618.6">(1)做好家园联系工作，更好的了解幼儿在家<tspan x="2300" dy="13.5">情况，以便展开教育工作。发现孩子有不稳定</tspan><tspan x="2300" dy="13.5">情绪的时候做到主动和家长沟通，家访，及时</tspan><tspan x="2300" dy="13.5">反映孩子的在园情况。</tspan></text></g>
<g id="n-r312"><rect class="b" x="2295.5" y="2690" width="219" height="36" rx="4"/><text class="t" x="2300" y="2705.4">(2)给孩子提供一个温馨、舒适、有趣的教室<tspan x="2300" dy="13.5">环境</tspan></text></g>
<g id="n-r313"><rect class="b" x="2295.5" y="2749" width="219" height="37" rx="4"/><text class="t" x="2300" y="2764.8">(3)教师以亲切、温和的态度对待孩子，吸引<tspan x="2300" dy="13.5">鼓励幼儿来园</tspan></text></g>
<g id="n-r32"><rect class="b" x="2081.5" y="2872" width="219" height="36" rx="4"/><text class="t" x="2086" y="2888.1">2、培养幼儿养成良好的生活常规，提高生活<tspan x="2086" dy="13.5">自理能力，做到生活有序。</tspan></text></g>
<g id="n-r321"><rect class="b" x="2321.5" y="2810" width="119" height="22" rx="4"/><text class="t" x="2326" y="2824.8">(1)正确使用自己的标记;</text></g>
<g id="n-r322"><rect class="b" x="2321.5" y="2856" width="107" height="22" rx="4"/><text class="t" x="2326" y="2870.8">(2)用正确的方法洗手;</text></g>
<g id="n-r323"><rect class="b" x="2321.5" y="2903" width="140" height="22" rx="4"/><text class="t" x="2326" y="2917.8">(3)能安静午睡，不吵醒别人;</text></g>
<g id="n-r324"><rect class="b" x="2321.5" y="2949" width="127" height="22" rx="4"/><text class="t" x="2326" y="2963.8">(4)养成良好的进餐习惯。</text></g>
<g id="n-r33"><rect class="b" x="2081.5" y="3068" width="131" height="22" rx="4"/><text class="t" x="2086" y="3082.8">3、培养良好的学习常规。</text></g>
<g id="n-r331"><rect class="b" x="2232.8" y="2995" width="193" height="23" rx="4"/><text class="t" x="2237" y="3010.4">(1)愿意参加各项集体活动，注意力集中;</text></g>
<g id="n-r332"><rect class="b" x="2232.8" y="3042" width="172" height="22" rx="4"/><text class="t" x="2237" y="3056.8">(2)爱护幼儿园的玩具，不与人争抢;</text></g>
<g id="n-r333"><rect class="b" x="2232.8" y="3088" width="108" height="22" rx="4"/><text class="t" x="2237" y="3103.1">(3)能将玩具归类收好;</text></g>
<g id="n-r334"><rect class="b" x="2232.8" y="3134" width="219" height="37" rx="4"/><text class="t" x="2237" y="3149.8">(4)学习看书的正确方式，培养幼儿良好的前<tspan x="2237" dy="13.5">阅读习惯。</tspan></text></g>
<g id="n-r34"><rect class="b" x="2081.5" y="3194" width="219" height="62" rx="4"/><text class="t" x="2086" y="3209.2">4、深入实践园本课程，将主题探究活动与区<tspan x="2086" dy="13.5">域活动结合进行。从他们的兴趣入手，让孩子</tspan><tspan x="2086" dy="13.5">主动学习，从而获取各方面的经验，提高综合</tspan><tspan x="2086" dy="13.5">能力。</tspan></text></g>
<g id="n-r35"><rect class="b" x="2081.5" y="3280" width="219" height="50" rx="4"/><text class="t" x="2086" y="3295.8">5、注重活动区活动的计划，做到学习有序。<tspan x="2086" dy="13.5">在活动时，教师将加强对孩子的观察与记录，</tspan><tspan x="2086" dy="13.5">及时发现问题、了解孩子。</tspan></text></g>
<g id="n-r36"><rect class="b" x="2081.5" y="3354" width="219" height="36" rx="4"/><text class="t" x="2086" y="3369.8">6、丰富幼儿一日生活，充分利用每天的间隙<tspan x="2086" dy="13.5">时间，丰富音乐活动和语言活动的形式。</tspan></text></g>
<g id="n-r4"><rect class="b" x="1968" y="3475" width="93" height="21" rx="4"/><text class="t" x="1973" y="3489.3">四、卫生保健工作</text></g>
<g id="n-r4a"><rect class="b" x="2081.5" y="3413" width="219" height="145" rx="4"/><text class="t" x="2086" y="3428.8">在卫生保健工作中我们将做到严格按园里的要<tspan x="2086" dy="13.5">求认真实施各项卫生保健工作。在工作中加强</tspan><tspan x="2086" dy="13.5">对幼儿的生活照顾，将幼儿的身心健康放在首</tspan><tspan x="2086" dy="13.5">位。给幼儿提供一个清洁舒适的活动环境，坚</tspan><tspan x="2086" dy="13.5">决杜绝传染病的流行，照顾好生病的孩子，定</tspan><tspan x="2086" dy="13.5">时定量给幼儿喂药，保证班级幼儿的出勤率。</tspan><tspan x="2086" dy="13.5">与此同时，坚持每天的户外活动。给幼儿创设</tspan><tspan x="2086" dy="13.5">一个宽松、愉悦的环境，建立良好的师生关系</tspan><tspan x="2086" dy="13.5">，将幼儿生理与心理结合起来，促进幼儿的身</tspan><tspan x="2086" dy="13.5">心健康，真正做到保教合一。</tspan></text></g>
<g id="n-r5"><rect class="b" x="1968" y="3675" width="72" height="22" rx="4"/><text class="t" x="1973" y="3690.2">五、家长工作</text></g>
<g id="n-r51"><rect class="b" x="2061" y="3581" width="219" height="50" rx="4"/><text class="t" x="2066" y="3596.8">在本学期的家长工作，我班重点以"尊重家长"<tspan x="2066" dy="13.5">为原则，提高教师的"服务意识"，加强与家长</tspan><tspan x="2066" dy="13.5">的沟通。我班将努力做好以下工作:</tspan></text></g>
<g id="n-r52"><rect class="b" x="2061" y="3654" width="219" height="63" rx="4"/><text class="t" x="2066" y="3669.8">(1)加强与家长的交流与沟通，电话、家访以<tspan x="2066" dy="13.5">及接送时的交谈等形式，了解每位孩子的兴趣</tspan><tspan x="2066" dy="13.5">和爱好，以及家长的需求和是否愿意参加班上</tspan><tspan x="2066" dy="13.5">的活动。</tspan></text></g>
<g id="n-r53"><rect class="b" x="2061" y="3732" width="219" height="36" rx="4"/><text class="t" x="2066" y="3747.3">(2)及时更新家园联系栏内容，使家长及时了解<tspan x="2066" dy="13.5">幼儿在园的学习和生活情况。</tspan></text></g>
<g id="n-r54"><rect class="b" x="2061" y="3800" width="219" height="50" rx="4"/><text class="t" x="2066" y="3815.3">(3)请家长积极配合班级工作，参与班级开展的<tspan x="2066" dy="13.5">各项活动，与教师共同关注孩子的成长，共同</tspan><tspan x="2066" dy="13.5">促进幼儿的发展。</tspan></text></g>

<g id="watermarks">
<text class="wm" text-anchor="middle" transform="translate(650,540) rotate(-30)">树图 shutu.cn</text>
<text class="wm" text-anchor="middle" transform="translate(1920,540) rotate(-30)">树图 shutu.cn</text>
<text class="wm" text-anchor="middle" transform="translate(645,1545) rotate(-30)">树图 shutu.cn</text>
<text class="wm" text-anchor="middle" transform="translate(1920,1545) rotate(-30)">树图 shutu.cn</text>
<text class="wm" text-anchor="middle" transform="translate(645,2545) rotate(-30)">树图 shutu.cn</text>
<text class="wm" text-anchor="middle" transform="translate(1920,2520) rotate(-30)">树图 shutu.cn</text>
<text class="wm" text-anchor="middle" transform="translate(650,3510) rotate(-30)">树图 shutu.cn</text>
<text class="wm" text-anchor="middle" transform="translate(1920,3510) rotate(-30)">树图 shutu.cn</text>
</g>
</g>
</svg>
